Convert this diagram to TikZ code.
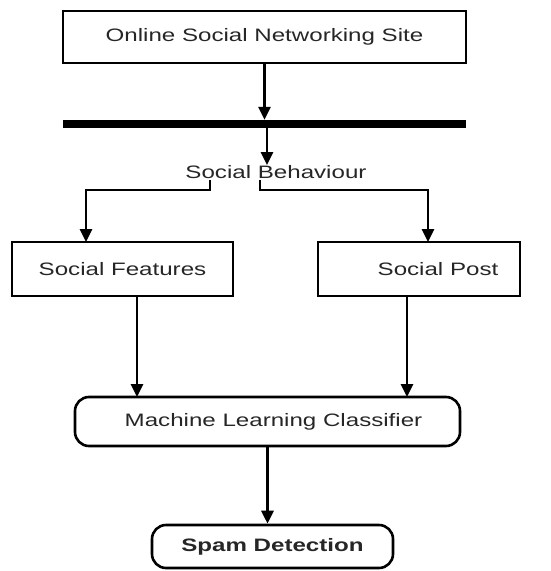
\documentclass[tikz,border=0pt]{standalone}
\usepackage{fontspec}
\setmainfont[FakeStretch=1.34]{Liberation Sans}
\usetikzlibrary{arrows.meta}
\begin{document}
\begin{tikzpicture}[x=1pt,y=-1pt,
  lbl/.style={font=\fontsize{18}{21}\selectfont, text=black!85},
  box/.style={draw, line width=2.6pt, inner sep=0pt, lbl},
  rbox/.style={box, rounded corners=14pt},
  arr/.style={line width=2.8pt, -{Triangle[length=13pt,width=12pt]}},
  ln/.style={line width=2.8pt}]
\useasboundingbox (0,0) rectangle (550,571);
\node[box, minimum width=403pt, minimum height=52pt] (top) at (264.5,37) {Online Social Networking Site};
\node[fill=black, inner sep=0pt, minimum width=403pt, minimum height=8pt] (bar) at (264.5,124) {};
\node[lbl, inner sep=0pt] (sb) at (276,172) {Social Behaviour};
\node[box, minimum width=221pt, minimum height=54pt] (feat) at (122.5,269) {Social Features};
\node[box, minimum width=202pt, minimum height=54pt] (post) at (419,269) {\hspace*{38pt}Social Post};
\node[rbox, minimum width=385pt, minimum height=49pt] (mlc) at (267.5,421.5) {\hspace*{12pt}Machine Learning Classifier};
\node[rbox, minimum width=241pt, minimum height=43pt, font=\fontsize{18}{21}\selectfont\bfseries] (spam) at (272.5,546.5) {Spam Detection};
\coordinate (bt) at (267,165);
\coordinate (sbL) at (210,180);
\coordinate (sbR) at (260,180);
\coordinate (featIn) at (86,242);
\coordinate (postIn) at (428,242);
\coordinate (mlcL) at (137,397);
\coordinate (mlcR) at (407,397);
\draw[arr] (top.south) -- (bar.north);
\draw[arr] (bar.south -| bt) -- (bt);
\draw[arr] (sbL) -- ++(0,10) -| (featIn);
\draw[arr] (sbR) -- ++(0,10) -| (postIn);
\draw[arr] (feat.south -| mlcL) -- (mlcL);
\draw[arr] (post.south -| mlcR) -- (mlcR);
\draw[arr] (mlc.south) -- (mlc.south |- spam.north);
\end{tikzpicture}
\end{document}
